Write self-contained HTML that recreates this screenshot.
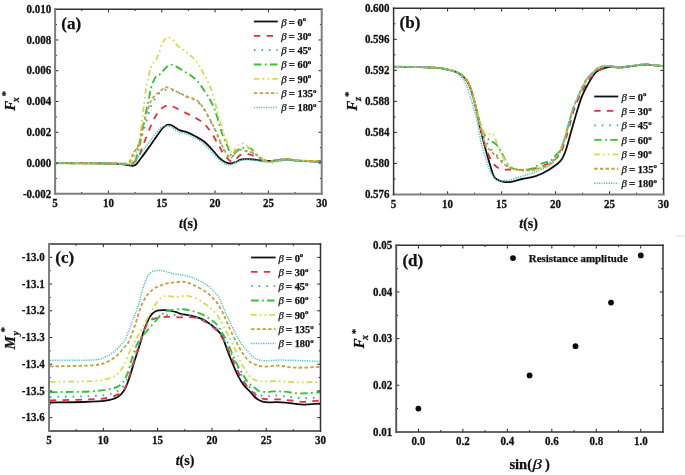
<!DOCTYPE html><html><head><meta charset="utf-8"><style>html,body{margin:0;padding:0;background:#fff;}svg{display:block;filter:blur(0.4px);}text{font-family:"Liberation Serif",serif;stroke:#111;stroke-width:0.25px;}</style></head><body>
<svg width="685" height="475" viewBox="0 0 685 475">
<rect width="685" height="475" fill="#fff"/>
<defs><clipPath id="ca"><rect x="55.10" y="9.20" width="266.60" height="184.60"/></clipPath><clipPath id="cb"><rect x="393.6" y="8.3" width="270" height="186.2"/></clipPath><clipPath id="cc"><rect x="49" y="244" width="271.5" height="187"/></clipPath></defs>
<path d="M55.50,163.20 C59.58,163.20 72.58,163.18 80.00,163.20 C87.42,163.22 94.17,163.23 100.00,163.30 C105.83,163.37 111.33,163.45 115.00,163.60 C118.67,163.75 119.83,163.93 122.00,164.20 C124.17,164.47 126.25,164.93 128.00,165.20 C129.75,165.47 131.17,165.92 132.50,165.80 C133.83,165.68 134.75,165.55 136.00,164.50 C137.25,163.45 138.45,161.52 140.00,159.50 C141.55,157.48 143.02,155.55 145.30,152.40 C147.58,149.25 150.88,144.53 153.70,140.60 C156.52,136.67 160.15,131.30 162.20,128.80 C164.25,126.30 164.95,126.28 166.00,125.60 C167.05,124.92 167.50,124.72 168.50,124.70 C169.50,124.68 170.75,124.95 172.00,125.50 C173.25,126.05 174.65,127.20 176.00,128.00 C177.35,128.80 178.30,129.60 180.10,130.30 C181.90,131.00 184.27,131.22 186.80,132.20 C189.33,133.18 192.48,134.68 195.30,136.20 C198.12,137.72 200.90,139.08 203.70,141.30 C206.50,143.52 209.45,146.68 212.10,149.50 C214.75,152.32 217.38,156.07 219.60,158.20 C221.82,160.33 223.58,161.42 225.40,162.30 C227.22,163.18 228.78,163.55 230.50,163.50 C232.22,163.45 233.87,162.68 235.70,162.00 C237.53,161.32 239.32,159.88 241.50,159.40 C243.68,158.92 246.55,159.05 248.80,159.10 C251.05,159.15 252.63,159.43 255.00,159.70 C257.37,159.97 259.97,160.50 263.00,160.70 C266.03,160.90 269.32,161.12 273.20,160.90 C277.08,160.68 282.17,159.43 286.30,159.40 C290.43,159.37 293.62,160.37 298.00,160.70 C302.38,161.03 308.68,161.27 312.60,161.40 C316.52,161.53 320.02,161.48 321.50,161.50" fill="none" stroke="#111111" stroke-width="1.8" stroke-linejoin="round" clip-path="url(#ca)"/>
<path d="M55.50,163.20 C62.92,163.22 90.08,163.25 100.00,163.30 C109.92,163.35 111.33,163.38 115.00,163.50 C118.67,163.62 119.83,163.85 122.00,164.00 C124.17,164.15 126.33,164.43 128.00,164.40 C129.67,164.37 130.83,164.28 132.00,163.80 C133.17,163.32 133.92,162.55 135.00,161.50 C136.08,160.45 137.07,160.42 138.50,157.50 C139.93,154.58 141.62,149.08 143.60,144.00 C145.58,138.92 148.33,131.75 150.40,127.00 C152.47,122.25 154.40,118.33 156.00,115.50 C157.60,112.67 158.67,111.45 160.00,110.00 C161.33,108.55 162.52,107.55 164.00,106.80 C165.48,106.05 167.07,105.38 168.90,105.50 C170.73,105.62 172.28,106.32 175.00,107.50 C177.72,108.68 182.10,111.05 185.20,112.60 C188.30,114.15 190.80,115.25 193.60,116.80 C196.40,118.35 199.77,120.20 202.00,121.90 C204.23,123.60 205.32,125.03 207.00,127.00 C208.68,128.97 210.48,131.20 212.10,133.70 C213.72,136.20 215.45,139.82 216.70,142.00 C217.95,144.18 218.63,145.07 219.60,146.80 C220.57,148.53 221.28,150.57 222.50,152.40 C223.72,154.23 225.65,156.40 226.90,157.80 C228.15,159.20 228.98,160.17 230.00,160.80 C231.02,161.43 232.00,161.82 233.00,161.60 C234.00,161.38 235.00,160.43 236.00,159.50 C237.00,158.57 237.83,156.88 239.00,156.00 C240.17,155.12 241.37,154.50 243.00,154.20 C244.63,153.90 247.10,153.95 248.80,154.20 C250.50,154.45 251.67,155.03 253.20,155.70 C254.73,156.37 256.37,157.48 258.00,158.20 C259.63,158.92 261.00,159.53 263.00,160.00 C265.00,160.47 267.17,160.97 270.00,161.00 C272.83,161.03 277.28,160.47 280.00,160.20 C282.72,159.93 283.30,159.32 286.30,159.40 C289.30,159.48 293.62,160.37 298.00,160.70 C302.38,161.03 308.68,161.27 312.60,161.40 C316.52,161.53 320.02,161.48 321.50,161.50" fill="none" stroke="#e2303c" stroke-width="1.8" stroke-dasharray="6.4 6.3" stroke-linejoin="round" clip-path="url(#ca)"/>
<path d="M55.50,163.20 C62.92,163.22 90.08,163.27 100.00,163.30 C109.92,163.33 111.33,163.32 115.00,163.40 C118.67,163.48 120.00,163.70 122.00,163.80 C124.00,163.90 125.50,164.22 127.00,164.00 C128.50,163.78 129.83,163.67 131.00,162.50 C132.17,161.33 132.88,159.53 134.00,157.00 C135.12,154.47 136.53,150.38 137.70,147.30 C138.87,144.22 139.87,141.72 141.00,138.50 C142.13,135.28 143.22,132.15 144.50,128.00 C145.78,123.85 147.45,117.60 148.70,113.60 C149.95,109.60 150.88,106.53 152.00,104.00 C153.12,101.47 154.23,100.15 155.40,98.40 C156.57,96.65 157.73,94.82 159.00,93.50 C160.27,92.18 161.63,91.18 163.00,90.50 C164.37,89.82 165.70,89.48 167.20,89.40 C168.70,89.32 169.85,89.30 172.00,90.00 C174.15,90.70 177.07,92.17 180.10,93.60 C183.13,95.03 187.40,97.37 190.20,98.60 C193.00,99.83 194.65,99.27 196.90,101.00 C199.15,102.73 201.45,105.67 203.70,109.00 C205.95,112.33 208.43,117.33 210.40,121.00 C212.37,124.67 213.82,127.33 215.50,131.00 C217.18,134.67 218.82,139.37 220.50,143.00 C222.18,146.63 223.92,150.25 225.60,152.80 C227.28,155.35 229.20,157.93 230.60,158.30 C232.00,158.67 232.75,156.30 234.00,155.00 C235.25,153.70 235.95,151.08 238.10,150.50 C240.25,149.92 244.22,150.95 246.90,151.50 C249.58,152.05 252.02,152.77 254.20,153.80 C256.38,154.83 258.03,156.58 260.00,157.70 C261.97,158.82 263.50,160.03 266.00,160.50 C268.50,160.97 271.62,160.72 275.00,160.50 C278.38,160.28 282.47,159.17 286.30,159.20 C290.13,159.23 292.13,160.35 298.00,160.70 C303.87,161.05 317.58,161.20 321.50,161.30" fill="none" stroke="#45a0dc" stroke-width="1.9" stroke-dasharray="1.7 5.8" stroke-linejoin="round" clip-path="url(#ca)"/>
<path d="M55.50,163.20 C62.92,163.22 90.08,163.27 100.00,163.30 C109.92,163.33 111.33,163.33 115.00,163.40 C118.67,163.47 120.00,163.63 122.00,163.70 C124.00,163.77 125.50,163.92 127.00,163.80 C128.50,163.68 129.92,163.38 131.00,163.00 C132.08,162.62 132.67,162.15 133.50,161.50 C134.33,160.85 134.88,162.30 136.00,159.10 C137.12,155.90 138.65,149.60 140.20,142.30 C141.75,135.00 143.88,122.35 145.30,115.30 C146.72,108.25 147.72,104.67 148.70,100.00 C149.68,95.33 150.07,91.10 151.20,87.30 C152.33,83.50 153.95,79.43 155.50,77.20 C157.05,74.97 158.82,75.43 160.50,73.90 C162.18,72.37 163.92,69.55 165.60,68.00 C167.28,66.45 168.65,64.73 170.60,64.60 C172.55,64.47 175.05,66.05 177.30,67.20 C179.55,68.35 181.95,70.20 184.10,71.50 C186.25,72.80 188.07,73.50 190.20,75.00 C192.33,76.50 194.65,78.03 196.90,80.50 C199.15,82.97 201.58,86.72 203.70,89.80 C205.82,92.88 207.92,96.05 209.60,99.00 C211.28,101.95 212.55,104.53 213.80,107.50 C215.05,110.47 215.70,112.43 217.10,116.80 C218.50,121.17 220.52,128.92 222.20,133.70 C223.88,138.48 225.65,141.85 227.20,145.50 C228.75,149.15 229.82,154.77 231.50,155.60 C233.18,156.43 235.70,151.73 237.30,150.50 C238.90,149.27 239.02,148.58 241.10,148.20 C243.18,147.82 247.13,147.10 249.80,148.20 C252.47,149.30 254.90,152.85 257.10,154.80 C259.30,156.75 261.18,158.70 263.00,159.90 C264.82,161.10 266.00,161.85 268.00,162.00 C270.00,162.15 271.95,161.30 275.00,160.80 C278.05,160.30 282.47,159.05 286.30,159.00 C290.13,158.95 292.13,160.13 298.00,160.50 C303.87,160.87 317.58,161.08 321.50,161.20" fill="none" stroke="#34c234" stroke-width="1.9" stroke-dasharray="7.5 3.5 1.7 3.3" stroke-linejoin="round" clip-path="url(#ca)"/>
<path d="M55.50,163.20 C62.92,163.22 90.08,163.27 100.00,163.30 C109.92,163.33 111.33,163.35 115.00,163.40 C118.67,163.45 120.00,163.57 122.00,163.60 C124.00,163.63 125.50,163.78 127.00,163.60 C128.50,163.42 129.83,163.43 131.00,162.50 C132.17,161.57 133.02,159.97 134.00,158.00 C134.98,156.03 135.87,154.45 136.90,150.70 C137.93,146.95 139.25,141.40 140.20,135.50 C141.15,129.60 141.88,121.22 142.60,115.30 C143.32,109.38 143.90,104.67 144.50,100.00 C145.10,95.33 145.35,91.93 146.20,87.30 C147.05,82.67 148.62,75.98 149.60,72.20 C150.58,68.42 151.12,66.57 152.10,64.60 C153.08,62.63 154.38,62.22 155.50,60.40 C156.62,58.58 157.68,56.50 158.80,53.70 C159.92,50.90 161.07,46.13 162.20,43.60 C163.33,41.07 164.62,39.55 165.60,38.50 C166.58,37.45 166.98,37.15 168.10,37.30 C169.22,37.45 170.77,38.07 172.30,39.40 C173.83,40.73 175.33,43.48 177.30,45.30 C179.27,47.12 181.95,48.63 184.10,50.30 C186.25,51.97 188.07,53.35 190.20,55.30 C192.33,57.25 194.65,58.92 196.90,62.00 C199.15,65.08 201.58,69.87 203.70,73.80 C205.82,77.73 207.92,81.67 209.60,85.60 C211.28,89.53 212.68,93.75 213.80,97.40 C214.92,101.05 215.47,104.27 216.30,107.50 C217.13,110.73 217.53,112.43 218.80,116.80 C220.07,121.17 222.22,128.65 223.90,133.70 C225.58,138.75 227.50,143.73 228.90,147.10 C230.30,150.47 231.12,153.75 232.30,153.90 C233.48,154.05 234.88,149.55 236.00,148.00 C237.12,146.45 237.92,145.37 239.00,144.60 C240.08,143.83 241.33,143.25 242.50,143.40 C243.67,143.55 244.30,144.33 246.00,145.50 C247.70,146.67 250.37,148.48 252.70,150.40 C255.03,152.32 257.57,154.93 260.00,157.00 C262.43,159.07 265.10,161.83 267.30,162.80 C269.50,163.77 271.08,163.10 273.20,162.80 C275.32,162.50 277.82,161.67 280.00,161.00 C282.18,160.33 283.30,158.88 286.30,158.80 C289.30,158.72 292.13,160.13 298.00,160.50 C303.87,160.87 317.58,160.92 321.50,161.00" fill="none" stroke="#dcd84a" stroke-width="1.8" stroke-dasharray="5.6 3 1.7 3.3 1.7 3" stroke-linejoin="round" clip-path="url(#ca)"/>
<path d="M55.50,163.20 C62.92,163.22 90.08,163.27 100.00,163.30 C109.92,163.33 111.33,163.33 115.00,163.40 C118.67,163.47 120.00,163.68 122.00,163.70 C124.00,163.72 125.67,163.95 127.00,163.50 C128.33,163.05 128.83,162.92 130.00,161.00 C131.17,159.08 132.58,154.67 134.00,152.00 C135.42,149.33 136.90,149.72 138.50,145.00 C140.10,140.28 141.90,130.05 143.60,123.70 C145.30,117.35 147.30,111.02 148.70,106.90 C150.10,102.78 150.87,100.98 152.00,99.00 C153.13,97.02 154.37,96.10 155.50,95.00 C156.63,93.90 157.40,93.57 158.80,92.40 C160.20,91.23 162.50,88.85 163.90,88.00 C165.30,87.15 165.52,86.93 167.20,87.30 C168.88,87.67 171.75,89.15 174.00,90.20 C176.25,91.25 178.18,92.40 180.70,93.60 C183.22,94.80 186.40,96.28 189.10,97.40 C191.80,98.52 194.47,98.47 196.90,100.30 C199.33,102.13 201.45,105.08 203.70,108.40 C205.95,111.72 208.43,116.55 210.40,120.20 C212.37,123.85 213.82,126.65 215.50,130.30 C217.18,133.95 218.82,138.45 220.50,142.10 C222.18,145.75 223.92,149.53 225.60,152.20 C227.28,154.87 229.20,157.80 230.60,158.10 C232.00,158.40 232.75,155.40 234.00,154.00 C235.25,152.60 235.95,150.17 238.10,149.70 C240.25,149.23 244.22,150.58 246.90,151.20 C249.58,151.82 252.02,152.32 254.20,153.40 C256.38,154.48 258.03,156.43 260.00,157.70 C261.97,158.97 263.50,160.53 266.00,161.00 C268.50,161.47 271.62,160.83 275.00,160.50 C278.38,160.17 282.47,159.00 286.30,159.00 C290.13,159.00 292.13,160.13 298.00,160.50 C303.87,160.87 317.58,161.08 321.50,161.20" fill="none" stroke="#c6a03c" stroke-width="1.8" stroke-dasharray="3.4 2.3" stroke-linejoin="round" clip-path="url(#ca)"/>
<path d="M55.50,163.20 C62.92,163.22 90.08,163.23 100.00,163.30 C109.92,163.37 111.33,163.45 115.00,163.60 C118.67,163.75 120.00,164.00 122.00,164.20 C124.00,164.40 125.50,164.70 127.00,164.80 C128.50,164.90 129.67,165.27 131.00,164.80 C132.33,164.33 133.67,163.47 135.00,162.00 C136.33,160.53 137.50,158.17 139.00,156.00 C140.50,153.83 141.83,151.90 144.00,149.00 C146.17,146.10 149.33,142.02 152.00,138.60 C154.67,135.18 158.00,130.57 160.00,128.50 C162.00,126.43 162.67,126.62 164.00,126.20 C165.33,125.78 166.67,125.78 168.00,126.00 C169.33,126.22 170.67,126.75 172.00,127.50 C173.33,128.25 174.65,129.72 176.00,130.50 C177.35,131.28 178.30,131.62 180.10,132.20 C181.90,132.78 184.27,133.03 186.80,134.00 C189.33,134.97 192.48,136.33 195.30,138.00 C198.12,139.67 200.90,141.58 203.70,144.00 C206.50,146.42 209.58,149.97 212.10,152.50 C214.62,155.03 216.83,157.42 218.80,159.20 C220.77,160.98 222.12,162.23 223.90,163.20 C225.68,164.17 227.48,165.20 229.50,165.00 C231.52,164.80 233.58,162.87 236.00,162.00 C238.42,161.13 240.97,160.10 244.00,159.80 C247.03,159.50 251.03,159.92 254.20,160.20 C257.37,160.48 259.83,161.27 263.00,161.50 C266.17,161.73 269.32,161.85 273.20,161.60 C277.08,161.35 282.17,160.07 286.30,160.00 C290.43,159.93 293.62,160.88 298.00,161.20 C302.38,161.52 308.68,161.77 312.60,161.90 C316.52,162.03 320.02,161.98 321.50,162.00" fill="none" stroke="#48c4c4" stroke-width="1.5" stroke-dasharray="1.2 1.2" stroke-linejoin="round" clip-path="url(#ca)"/>
<line x1="108.42" y1="193.80" x2="108.42" y2="190.60" stroke="#222" stroke-width="1"/>
<line x1="108.42" y1="9.20" x2="108.42" y2="12.40" stroke="#222" stroke-width="1"/>
<line x1="161.74" y1="193.80" x2="161.74" y2="190.60" stroke="#222" stroke-width="1"/>
<line x1="161.74" y1="9.20" x2="161.74" y2="12.40" stroke="#222" stroke-width="1"/>
<line x1="215.06" y1="193.80" x2="215.06" y2="190.60" stroke="#222" stroke-width="1"/>
<line x1="215.06" y1="9.20" x2="215.06" y2="12.40" stroke="#222" stroke-width="1"/>
<line x1="268.38" y1="193.80" x2="268.38" y2="190.60" stroke="#222" stroke-width="1"/>
<line x1="268.38" y1="9.20" x2="268.38" y2="12.40" stroke="#222" stroke-width="1"/>
<line x1="81.76" y1="193.80" x2="81.76" y2="192.00" stroke="#222" stroke-width="1"/>
<line x1="81.76" y1="9.20" x2="81.76" y2="11.00" stroke="#222" stroke-width="1"/>
<line x1="135.08" y1="193.80" x2="135.08" y2="192.00" stroke="#222" stroke-width="1"/>
<line x1="135.08" y1="9.20" x2="135.08" y2="11.00" stroke="#222" stroke-width="1"/>
<line x1="188.40" y1="193.80" x2="188.40" y2="192.00" stroke="#222" stroke-width="1"/>
<line x1="188.40" y1="9.20" x2="188.40" y2="11.00" stroke="#222" stroke-width="1"/>
<line x1="241.72" y1="193.80" x2="241.72" y2="192.00" stroke="#222" stroke-width="1"/>
<line x1="241.72" y1="9.20" x2="241.72" y2="11.00" stroke="#222" stroke-width="1"/>
<line x1="295.04" y1="193.80" x2="295.04" y2="192.00" stroke="#222" stroke-width="1"/>
<line x1="295.04" y1="9.20" x2="295.04" y2="11.00" stroke="#222" stroke-width="1"/>
<line x1="55.10" y1="39.97" x2="58.30" y2="39.97" stroke="#222" stroke-width="1"/>
<line x1="321.70" y1="39.97" x2="318.50" y2="39.97" stroke="#222" stroke-width="1"/>
<line x1="55.10" y1="70.73" x2="58.30" y2="70.73" stroke="#222" stroke-width="1"/>
<line x1="321.70" y1="70.73" x2="318.50" y2="70.73" stroke="#222" stroke-width="1"/>
<line x1="55.10" y1="101.50" x2="58.30" y2="101.50" stroke="#222" stroke-width="1"/>
<line x1="321.70" y1="101.50" x2="318.50" y2="101.50" stroke="#222" stroke-width="1"/>
<line x1="55.10" y1="132.27" x2="58.30" y2="132.27" stroke="#222" stroke-width="1"/>
<line x1="321.70" y1="132.27" x2="318.50" y2="132.27" stroke="#222" stroke-width="1"/>
<line x1="55.10" y1="163.03" x2="58.30" y2="163.03" stroke="#222" stroke-width="1"/>
<line x1="321.70" y1="163.03" x2="318.50" y2="163.03" stroke="#222" stroke-width="1"/>
<line x1="55.10" y1="178.42" x2="56.90" y2="178.42" stroke="#222" stroke-width="1"/>
<line x1="321.70" y1="178.42" x2="319.90" y2="178.42" stroke="#222" stroke-width="1"/>
<line x1="55.10" y1="147.65" x2="56.90" y2="147.65" stroke="#222" stroke-width="1"/>
<line x1="321.70" y1="147.65" x2="319.90" y2="147.65" stroke="#222" stroke-width="1"/>
<line x1="55.10" y1="116.88" x2="56.90" y2="116.88" stroke="#222" stroke-width="1"/>
<line x1="321.70" y1="116.88" x2="319.90" y2="116.88" stroke="#222" stroke-width="1"/>
<line x1="55.10" y1="86.12" x2="56.90" y2="86.12" stroke="#222" stroke-width="1"/>
<line x1="321.70" y1="86.12" x2="319.90" y2="86.12" stroke="#222" stroke-width="1"/>
<line x1="55.10" y1="55.35" x2="56.90" y2="55.35" stroke="#222" stroke-width="1"/>
<line x1="321.70" y1="55.35" x2="319.90" y2="55.35" stroke="#222" stroke-width="1"/>
<line x1="55.10" y1="24.58" x2="56.90" y2="24.58" stroke="#222" stroke-width="1"/>
<line x1="321.70" y1="24.58" x2="319.90" y2="24.58" stroke="#222" stroke-width="1"/>
<line x1="55.10" y1="9.20" x2="321.70" y2="9.20" stroke="#333" stroke-width="1.5" stroke-linecap="square"/>
<line x1="321.70" y1="9.20" x2="321.70" y2="193.80" stroke="#7e7e7e" stroke-width="2.0" stroke-linecap="square"/>
<line x1="321.70" y1="193.80" x2="55.10" y2="193.80" stroke="#7e7e7e" stroke-width="2.0" stroke-linecap="square"/>
<line x1="55.10" y1="193.80" x2="55.10" y2="9.20" stroke="#7e7e7e" stroke-width="2.0" stroke-linecap="square"/>
<text transform="translate(51.30,12.90) scale(1,1.100)" font-size="11" text-anchor="end" font-weight="bold" font-style="normal" fill="#111">0.010</text>
<text transform="translate(51.30,43.67) scale(1,1.100)" font-size="11" text-anchor="end" font-weight="bold" font-style="normal" fill="#111">0.008</text>
<text transform="translate(51.30,74.43) scale(1,1.100)" font-size="11" text-anchor="end" font-weight="bold" font-style="normal" fill="#111">0.006</text>
<text transform="translate(51.30,105.20) scale(1,1.100)" font-size="11" text-anchor="end" font-weight="bold" font-style="normal" fill="#111">0.004</text>
<text transform="translate(51.30,135.97) scale(1,1.100)" font-size="11" text-anchor="end" font-weight="bold" font-style="normal" fill="#111">0.002</text>
<text transform="translate(51.30,166.73) scale(1,1.100)" font-size="11" text-anchor="end" font-weight="bold" font-style="normal" fill="#111">0.000</text>
<text transform="translate(51.30,197.50) scale(1,1.100)" font-size="11" text-anchor="end" font-weight="bold" font-style="normal" fill="#111">-0.002</text>
<text transform="translate(55.10,206.90) scale(1,1.100)" font-size="11" text-anchor="middle" font-weight="bold" font-style="normal" fill="#111">5</text>
<text transform="translate(108.42,206.90) scale(1,1.100)" font-size="11" text-anchor="middle" font-weight="bold" font-style="normal" fill="#111">10</text>
<text transform="translate(161.74,206.90) scale(1,1.100)" font-size="11" text-anchor="middle" font-weight="bold" font-style="normal" fill="#111">15</text>
<text transform="translate(215.06,206.90) scale(1,1.100)" font-size="11" text-anchor="middle" font-weight="bold" font-style="normal" fill="#111">20</text>
<text transform="translate(268.38,206.90) scale(1,1.100)" font-size="11" text-anchor="middle" font-weight="bold" font-style="normal" fill="#111">25</text>
<text transform="translate(321.70,206.90) scale(1,1.100)" font-size="11" text-anchor="middle" font-weight="bold" font-style="normal" fill="#111">30</text>
<text x="61.30" y="29.40" font-size="17" text-anchor="start" font-weight="bold" font-style="normal" fill="#111">(a)</text>
<line x1="253.90" y1="21.50" x2="277.80" y2="21.50" stroke="#111111" stroke-width="1.8"/>
<text x="281.20" y="25.50" font-size="10.4" font-weight="bold" fill="#111"><tspan font-style="italic" font-weight="normal" font-size="10.8">&#946;</tspan><tspan dx="1.9" font-size="11.2">=</tspan><tspan dx="2.6">0</tspan><tspan font-size="6.8" dy="-4.3">o</tspan></text>
<line x1="253.90" y1="35.82" x2="277.80" y2="35.82" stroke="#e2303c" stroke-width="1.8" stroke-dasharray="6.4 6.3"/>
<text x="281.20" y="39.82" font-size="10.4" font-weight="bold" fill="#111"><tspan font-style="italic" font-weight="normal" font-size="10.8">&#946;</tspan><tspan dx="1.9" font-size="11.2">=</tspan><tspan dx="2.6">30</tspan><tspan font-size="6.8" dy="-4.3">o</tspan></text>
<line x1="253.90" y1="50.14" x2="277.80" y2="50.14" stroke="#45a0dc" stroke-width="1.9" stroke-dasharray="1.7 5.8"/>
<text x="281.20" y="54.14" font-size="10.4" font-weight="bold" fill="#111"><tspan font-style="italic" font-weight="normal" font-size="10.8">&#946;</tspan><tspan dx="1.9" font-size="11.2">=</tspan><tspan dx="2.6">45</tspan><tspan font-size="6.8" dy="-4.3">o</tspan></text>
<line x1="253.90" y1="64.46" x2="277.80" y2="64.46" stroke="#34c234" stroke-width="1.9" stroke-dasharray="7.5 3.5 1.7 3.3"/>
<text x="281.20" y="68.46" font-size="10.4" font-weight="bold" fill="#111"><tspan font-style="italic" font-weight="normal" font-size="10.8">&#946;</tspan><tspan dx="1.9" font-size="11.2">=</tspan><tspan dx="2.6">60</tspan><tspan font-size="6.8" dy="-4.3">o</tspan></text>
<line x1="253.90" y1="78.78" x2="277.80" y2="78.78" stroke="#dcd84a" stroke-width="1.8" stroke-dasharray="5.6 3 1.7 3.3 1.7 3"/>
<text x="281.20" y="82.78" font-size="10.4" font-weight="bold" fill="#111"><tspan font-style="italic" font-weight="normal" font-size="10.8">&#946;</tspan><tspan dx="1.9" font-size="11.2">=</tspan><tspan dx="2.6">90</tspan><tspan font-size="6.8" dy="-4.3">o</tspan></text>
<line x1="253.90" y1="93.10" x2="277.80" y2="93.10" stroke="#c6a03c" stroke-width="1.8" stroke-dasharray="3.4 2.3"/>
<text x="281.20" y="97.10" font-size="10.4" font-weight="bold" fill="#111"><tspan font-style="italic" font-weight="normal" font-size="10.8">&#946;</tspan><tspan dx="1.9" font-size="11.2">=</tspan><tspan dx="2.6">135</tspan><tspan font-size="6.8" dy="-4.3">o</tspan></text>
<line x1="253.90" y1="107.42" x2="277.80" y2="107.42" stroke="#48c4c4" stroke-width="1.5" stroke-dasharray="1.2 1.2"/>
<text x="281.20" y="111.42" font-size="10.4" font-weight="bold" fill="#111"><tspan font-style="italic" font-weight="normal" font-size="10.8">&#946;</tspan><tspan dx="1.9" font-size="11.2">=</tspan><tspan dx="2.6">180</tspan><tspan font-size="6.8" dy="-4.3">o</tspan></text>
<text x="188.4" y="228.1" font-size="14" text-anchor="middle" font-weight="bold" fill="#111"><tspan font-style="italic">t</tspan>(s)</text>
<text transform="translate(14.80,110.80) rotate(-90)" font-size="15" font-weight="bold" fill="#111"><tspan font-style="italic">F</tspan><tspan font-style="italic" font-size="10" dx="-1.40" dy="3.8">x</tspan><tspan font-size="11" dx="0.60" dy="-9.30">*</tspan></text>
<path d="M394.00,66.80 C398.33,66.83 412.33,66.77 420.00,67.00 C427.67,67.23 435.33,67.73 440.00,68.20 C444.67,68.67 445.27,69.12 448.00,69.80 C450.73,70.48 453.63,70.97 456.40,72.30 C459.17,73.63 462.32,75.28 464.60,77.80 C466.88,80.32 468.27,82.62 470.10,87.40 C471.93,92.18 474.00,100.13 475.60,106.50 C477.20,112.87 478.12,118.77 479.70,125.60 C481.28,132.43 483.28,140.65 485.10,147.50 C486.92,154.35 489.00,161.68 490.60,166.70 C492.20,171.72 492.65,175.10 494.70,177.60 C496.75,180.10 500.17,180.98 502.90,181.70 C505.63,182.42 507.92,182.35 511.10,181.90 C514.28,181.45 517.90,179.95 522.00,179.00 C526.10,178.05 531.13,177.80 535.70,176.20 C540.27,174.60 545.30,171.90 549.40,169.40 C553.50,166.90 557.57,164.38 560.30,161.20 C563.03,158.02 563.97,155.32 565.80,150.30 C567.63,145.28 569.47,137.48 571.30,131.10 C573.13,124.72 574.98,117.92 576.80,112.00 C578.62,106.08 580.38,100.17 582.20,95.60 C584.02,91.03 585.65,88.25 587.70,84.60 C589.75,80.95 592.45,76.20 594.50,73.70 C596.55,71.20 598.08,70.62 600.00,69.60 C601.92,68.58 604.00,68.05 606.00,67.60 C608.00,67.15 609.92,66.92 612.00,66.90 C614.08,66.88 615.78,67.55 618.50,67.50 C621.22,67.45 624.83,67.02 628.30,66.60 C631.77,66.18 636.02,65.32 639.30,65.00 C642.58,64.68 645.27,64.62 648.00,64.70 C650.73,64.78 653.12,65.25 655.70,65.50 C658.28,65.75 662.20,66.08 663.50,66.20" fill="none" stroke="#111111" stroke-width="1.8" stroke-linejoin="round" clip-path="url(#cb)"/>
<path d="M394.00,66.80 C398.33,66.83 412.33,66.78 420.00,67.00 C427.67,67.22 435.33,67.67 440.00,68.10 C444.67,68.53 445.27,68.95 448.00,69.60 C450.73,70.25 453.63,70.70 456.40,72.00 C459.17,73.30 462.32,74.90 464.60,77.40 C466.88,79.90 468.27,82.23 470.10,87.00 C471.93,91.77 474.00,99.83 475.60,106.00 C477.20,112.17 478.12,117.50 479.70,124.00 C481.28,130.50 483.38,139.33 485.10,145.00 C486.82,150.67 488.35,154.58 490.00,158.00 C491.65,161.42 493.00,163.58 495.00,165.50 C497.00,167.42 499.50,168.83 502.00,169.50 C504.50,170.17 506.33,169.45 510.00,169.50 C513.67,169.55 519.70,170.03 524.00,169.80 C528.30,169.57 531.88,169.08 535.80,168.10 C539.72,167.12 543.87,165.73 547.50,163.90 C551.13,162.07 555.18,159.42 557.60,157.10 C560.02,154.78 560.60,153.18 562.00,150.00 C563.40,146.82 564.58,142.67 566.00,138.00 C567.42,133.33 569.00,127.17 570.50,122.00 C572.00,116.83 573.08,112.08 575.00,107.00 C576.92,101.92 579.67,96.08 582.00,91.50 C584.33,86.92 586.93,82.42 589.00,79.50 C591.07,76.58 592.40,75.75 594.40,74.00 C596.40,72.25 599.07,70.20 601.00,69.00 C602.93,67.80 604.18,67.22 606.00,66.80 C607.82,66.38 609.82,66.40 611.90,66.50 C613.98,66.60 615.77,67.40 618.50,67.40 C621.23,67.40 624.83,66.92 628.30,66.50 C631.77,66.08 636.02,65.22 639.30,64.90 C642.58,64.58 645.27,64.52 648.00,64.60 C650.73,64.68 653.12,65.15 655.70,65.40 C658.28,65.65 662.20,65.98 663.50,66.10" fill="none" stroke="#e2303c" stroke-width="1.8" stroke-dasharray="6.4 6.3" stroke-linejoin="round" clip-path="url(#cb)"/>
<path d="M394.00,66.80 C398.33,66.83 412.33,66.78 420.00,67.00 C427.67,67.22 435.33,67.67 440.00,68.10 C444.67,68.53 445.27,68.95 448.00,69.60 C450.73,70.25 453.63,70.70 456.40,72.00 C459.17,73.30 462.32,74.90 464.60,77.40 C466.88,79.90 468.27,82.23 470.10,87.00 C471.93,91.77 474.00,100.00 475.60,106.00 C477.20,112.00 478.30,117.83 479.70,123.00 C481.10,128.17 482.28,132.83 484.00,137.00 C485.72,141.17 487.27,144.37 490.00,148.00 C492.73,151.63 497.55,155.87 500.40,158.80 C503.25,161.73 504.85,163.92 507.10,165.60 C509.35,167.28 511.42,168.20 513.90,168.90 C516.38,169.60 518.98,169.70 522.00,169.80 C525.02,169.90 528.67,169.97 532.00,169.50 C535.33,169.03 538.83,168.17 542.00,167.00 C545.17,165.83 548.50,164.42 551.00,162.50 C553.50,160.58 555.42,157.58 557.00,155.50 C558.58,153.42 559.35,152.42 560.50,150.00 C561.65,147.58 562.57,145.18 563.90,141.00 C565.23,136.82 566.95,130.30 568.50,124.90 C570.05,119.50 571.28,114.02 573.20,108.60 C575.12,103.18 577.87,97.08 580.00,92.40 C582.13,87.72 584.33,83.32 586.00,80.50 C587.67,77.68 588.23,77.38 590.00,75.50 C591.77,73.62 594.43,70.72 596.60,69.20 C598.77,67.68 600.45,66.85 603.00,66.40 C605.55,65.95 609.32,66.33 611.90,66.50 C614.48,66.67 615.77,67.40 618.50,67.40 C621.23,67.40 624.83,66.92 628.30,66.50 C631.77,66.08 636.02,65.22 639.30,64.90 C642.58,64.58 645.27,64.52 648.00,64.60 C650.73,64.68 653.12,65.15 655.70,65.40 C658.28,65.65 662.20,65.98 663.50,66.10" fill="none" stroke="#45a0dc" stroke-width="1.9" stroke-dasharray="1.7 5.8" stroke-linejoin="round" clip-path="url(#cb)"/>
<path d="M394.00,66.80 C398.33,66.83 412.33,66.78 420.00,67.00 C427.67,67.22 435.33,67.67 440.00,68.10 C444.67,68.53 445.27,68.95 448.00,69.60 C450.73,70.25 453.63,70.70 456.40,72.00 C459.17,73.30 462.32,74.90 464.60,77.40 C466.88,79.90 468.27,82.23 470.10,87.00 C471.93,91.77 474.12,100.58 475.60,106.00 C477.08,111.42 477.93,115.67 479.00,119.50 C480.07,123.33 481.00,126.33 482.00,129.00 C483.00,131.67 483.67,133.58 485.00,135.50 C486.33,137.42 488.27,139.13 490.00,140.50 C491.73,141.87 493.67,142.05 495.40,143.70 C497.13,145.35 498.72,147.60 500.40,150.40 C502.08,153.20 503.82,157.70 505.50,160.50 C507.18,163.30 508.27,165.65 510.50,167.20 C512.73,168.75 515.53,169.52 518.90,169.80 C522.27,170.08 527.05,169.88 530.70,168.90 C534.35,167.92 537.43,165.30 540.80,163.90 C544.17,162.50 548.37,161.98 550.90,160.50 C553.43,159.02 554.43,156.75 556.00,155.00 C557.57,153.25 558.98,152.33 560.30,150.00 C561.62,147.67 562.53,145.18 563.90,141.00 C565.27,136.82 566.95,130.30 568.50,124.90 C570.05,119.50 571.28,114.02 573.20,108.60 C575.12,103.18 577.87,97.08 580.00,92.40 C582.13,87.72 584.33,83.32 586.00,80.50 C587.67,77.68 588.23,77.38 590.00,75.50 C591.77,73.62 594.43,70.72 596.60,69.20 C598.77,67.68 600.45,66.85 603.00,66.40 C605.55,65.95 609.32,66.33 611.90,66.50 C614.48,66.67 615.77,67.40 618.50,67.40 C621.23,67.40 624.83,66.92 628.30,66.50 C631.77,66.08 636.02,65.22 639.30,64.90 C642.58,64.58 645.27,64.52 648.00,64.60 C650.73,64.68 653.12,65.15 655.70,65.40 C658.28,65.65 662.20,65.98 663.50,66.10" fill="none" stroke="#34c234" stroke-width="1.9" stroke-dasharray="7.5 3.5 1.7 3.3" stroke-linejoin="round" clip-path="url(#cb)"/>
<path d="M394.00,66.80 C398.33,66.83 412.33,66.78 420.00,67.00 C427.67,67.22 435.33,67.67 440.00,68.10 C444.67,68.53 445.27,68.95 448.00,69.60 C450.73,70.25 453.63,70.70 456.40,72.00 C459.17,73.30 462.32,74.90 464.60,77.40 C466.88,79.90 468.27,82.23 470.10,87.00 C471.93,91.77 474.12,100.58 475.60,106.00 C477.08,111.42 477.95,115.67 479.00,119.50 C480.05,123.33 480.90,126.67 481.90,129.00 C482.90,131.33 483.65,132.63 485.00,133.50 C486.35,134.37 488.55,134.02 490.00,134.20 C491.45,134.38 492.53,133.02 493.70,134.60 C494.87,136.18 495.60,140.22 497.00,143.70 C498.40,147.18 500.13,151.85 502.10,155.50 C504.07,159.15 506.28,163.22 508.80,165.60 C511.32,167.98 514.12,168.83 517.20,169.80 C520.28,170.77 523.65,171.55 527.30,171.40 C530.95,171.25 535.17,170.15 539.10,168.90 C543.03,167.65 548.08,165.88 550.90,163.90 C553.72,161.92 554.43,159.32 556.00,157.00 C557.57,154.68 558.98,152.67 560.30,150.00 C561.62,147.33 562.53,145.18 563.90,141.00 C565.27,136.82 566.95,130.30 568.50,124.90 C570.05,119.50 571.28,114.02 573.20,108.60 C575.12,103.18 577.87,97.08 580.00,92.40 C582.13,87.72 584.33,83.32 586.00,80.50 C587.67,77.68 588.23,77.38 590.00,75.50 C591.77,73.62 594.43,70.72 596.60,69.20 C598.77,67.68 600.45,66.85 603.00,66.40 C605.55,65.95 609.32,66.33 611.90,66.50 C614.48,66.67 615.77,67.40 618.50,67.40 C621.23,67.40 624.83,66.92 628.30,66.50 C631.77,66.08 636.02,65.22 639.30,64.90 C642.58,64.58 645.27,64.52 648.00,64.60 C650.73,64.68 653.12,65.15 655.70,65.40 C658.28,65.65 662.20,65.98 663.50,66.10" fill="none" stroke="#dcd84a" stroke-width="1.8" stroke-dasharray="5.6 3 1.7 3.3 1.7 3" stroke-linejoin="round" clip-path="url(#cb)"/>
<path d="M394.00,66.80 C398.33,66.83 412.33,66.78 420.00,67.00 C427.67,67.22 435.33,67.67 440.00,68.10 C444.67,68.53 445.27,68.95 448.00,69.60 C450.73,70.25 453.63,70.70 456.40,72.00 C459.17,73.30 462.32,74.90 464.60,77.40 C466.88,79.90 468.27,82.23 470.10,87.00 C471.93,91.77 474.00,99.92 475.60,106.00 C477.20,112.08 478.47,118.33 479.70,123.50 C480.93,128.67 481.95,133.25 483.00,137.00 C484.05,140.75 484.78,143.77 486.00,146.00 C487.22,148.23 488.47,148.55 490.30,150.40 C492.13,152.25 494.75,154.85 497.00,157.10 C499.25,159.35 501.55,162.07 503.80,163.90 C506.05,165.73 507.70,167.12 510.50,168.10 C513.30,169.08 517.35,169.48 520.60,169.80 C523.85,170.12 526.77,170.30 530.00,170.00 C533.23,169.70 536.67,169.00 540.00,168.00 C543.33,167.00 547.33,165.75 550.00,164.00 C552.67,162.25 554.28,159.67 556.00,157.50 C557.72,155.33 558.98,153.75 560.30,151.00 C561.62,148.25 562.53,145.35 563.90,141.00 C565.27,136.65 566.95,130.30 568.50,124.90 C570.05,119.50 571.28,114.02 573.20,108.60 C575.12,103.18 577.87,97.08 580.00,92.40 C582.13,87.72 584.33,83.32 586.00,80.50 C587.67,77.68 588.23,77.38 590.00,75.50 C591.77,73.62 594.43,70.72 596.60,69.20 C598.77,67.68 600.45,66.85 603.00,66.40 C605.55,65.95 609.32,66.33 611.90,66.50 C614.48,66.67 615.77,67.40 618.50,67.40 C621.23,67.40 624.83,66.92 628.30,66.50 C631.77,66.08 636.02,65.22 639.30,64.90 C642.58,64.58 645.27,64.52 648.00,64.60 C650.73,64.68 653.12,65.15 655.70,65.40 C658.28,65.65 662.20,65.98 663.50,66.10" fill="none" stroke="#c6a03c" stroke-width="1.8" stroke-dasharray="3.4 2.3" stroke-linejoin="round" clip-path="url(#cb)"/>
<path d="M394.00,66.80 C398.33,66.83 412.33,66.83 420.00,67.00 C427.67,67.17 434.67,67.22 440.00,67.80 C445.33,68.38 448.67,69.22 452.00,70.50 C455.33,71.78 457.67,73.15 460.00,75.50 C462.33,77.85 464.08,80.35 466.00,84.60 C467.92,88.85 469.67,95.10 471.50,101.00 C473.33,106.90 475.42,113.17 477.00,120.00 C478.58,126.83 479.42,135.17 481.00,142.00 C482.58,148.83 484.90,156.00 486.50,161.00 C488.10,166.00 488.78,168.78 490.60,172.00 C492.42,175.22 494.43,178.92 497.40,180.30 C500.37,181.68 504.30,180.98 508.40,180.30 C512.50,179.62 517.45,177.58 522.00,176.20 C526.55,174.82 531.13,173.82 535.70,172.00 C540.27,170.18 546.02,167.55 549.40,165.30 C552.78,163.05 554.18,160.88 556.00,158.50 C557.82,156.12 558.98,153.92 560.30,151.00 C561.62,148.08 562.53,145.35 563.90,141.00 C565.27,136.65 566.95,130.30 568.50,124.90 C570.05,119.50 571.28,114.02 573.20,108.60 C575.12,103.18 577.87,97.08 580.00,92.40 C582.13,87.72 584.33,83.32 586.00,80.50 C587.67,77.68 588.23,77.38 590.00,75.50 C591.77,73.62 594.43,70.72 596.60,69.20 C598.77,67.68 600.45,66.85 603.00,66.40 C605.55,65.95 609.32,66.33 611.90,66.50 C614.48,66.67 615.77,67.40 618.50,67.40 C621.23,67.40 624.83,66.92 628.30,66.50 C631.77,66.08 636.02,65.22 639.30,64.90 C642.58,64.58 645.27,64.52 648.00,64.60 C650.73,64.68 653.12,65.15 655.70,65.40 C658.28,65.65 662.20,65.98 663.50,66.10" fill="none" stroke="#48c4c4" stroke-width="1.5" stroke-dasharray="1.2 1.2" stroke-linejoin="round" clip-path="url(#cb)"/>
<line x1="447.60" y1="194.50" x2="447.60" y2="191.30" stroke="#222" stroke-width="1"/>
<line x1="447.60" y1="8.30" x2="447.60" y2="11.50" stroke="#222" stroke-width="1"/>
<line x1="501.60" y1="194.50" x2="501.60" y2="191.30" stroke="#222" stroke-width="1"/>
<line x1="501.60" y1="8.30" x2="501.60" y2="11.50" stroke="#222" stroke-width="1"/>
<line x1="555.60" y1="194.50" x2="555.60" y2="191.30" stroke="#222" stroke-width="1"/>
<line x1="555.60" y1="8.30" x2="555.60" y2="11.50" stroke="#222" stroke-width="1"/>
<line x1="609.60" y1="194.50" x2="609.60" y2="191.30" stroke="#222" stroke-width="1"/>
<line x1="609.60" y1="8.30" x2="609.60" y2="11.50" stroke="#222" stroke-width="1"/>
<line x1="420.60" y1="194.50" x2="420.60" y2="192.70" stroke="#222" stroke-width="1"/>
<line x1="420.60" y1="8.30" x2="420.60" y2="10.10" stroke="#222" stroke-width="1"/>
<line x1="474.60" y1="194.50" x2="474.60" y2="192.70" stroke="#222" stroke-width="1"/>
<line x1="474.60" y1="8.30" x2="474.60" y2="10.10" stroke="#222" stroke-width="1"/>
<line x1="528.60" y1="194.50" x2="528.60" y2="192.70" stroke="#222" stroke-width="1"/>
<line x1="528.60" y1="8.30" x2="528.60" y2="10.10" stroke="#222" stroke-width="1"/>
<line x1="582.60" y1="194.50" x2="582.60" y2="192.70" stroke="#222" stroke-width="1"/>
<line x1="582.60" y1="8.30" x2="582.60" y2="10.10" stroke="#222" stroke-width="1"/>
<line x1="636.60" y1="194.50" x2="636.60" y2="192.70" stroke="#222" stroke-width="1"/>
<line x1="636.60" y1="8.30" x2="636.60" y2="10.10" stroke="#222" stroke-width="1"/>
<line x1="393.60" y1="39.33" x2="396.80" y2="39.33" stroke="#222" stroke-width="1"/>
<line x1="663.60" y1="39.33" x2="660.40" y2="39.33" stroke="#222" stroke-width="1"/>
<line x1="393.60" y1="70.37" x2="396.80" y2="70.37" stroke="#222" stroke-width="1"/>
<line x1="663.60" y1="70.37" x2="660.40" y2="70.37" stroke="#222" stroke-width="1"/>
<line x1="393.60" y1="101.40" x2="396.80" y2="101.40" stroke="#222" stroke-width="1"/>
<line x1="663.60" y1="101.40" x2="660.40" y2="101.40" stroke="#222" stroke-width="1"/>
<line x1="393.60" y1="132.43" x2="396.80" y2="132.43" stroke="#222" stroke-width="1"/>
<line x1="663.60" y1="132.43" x2="660.40" y2="132.43" stroke="#222" stroke-width="1"/>
<line x1="393.60" y1="163.47" x2="396.80" y2="163.47" stroke="#222" stroke-width="1"/>
<line x1="663.60" y1="163.47" x2="660.40" y2="163.47" stroke="#222" stroke-width="1"/>
<line x1="393.60" y1="178.98" x2="395.40" y2="178.98" stroke="#222" stroke-width="1"/>
<line x1="663.60" y1="178.98" x2="661.80" y2="178.98" stroke="#222" stroke-width="1"/>
<line x1="393.60" y1="147.95" x2="395.40" y2="147.95" stroke="#222" stroke-width="1"/>
<line x1="663.60" y1="147.95" x2="661.80" y2="147.95" stroke="#222" stroke-width="1"/>
<line x1="393.60" y1="116.92" x2="395.40" y2="116.92" stroke="#222" stroke-width="1"/>
<line x1="663.60" y1="116.92" x2="661.80" y2="116.92" stroke="#222" stroke-width="1"/>
<line x1="393.60" y1="85.88" x2="395.40" y2="85.88" stroke="#222" stroke-width="1"/>
<line x1="663.60" y1="85.88" x2="661.80" y2="85.88" stroke="#222" stroke-width="1"/>
<line x1="393.60" y1="54.85" x2="395.40" y2="54.85" stroke="#222" stroke-width="1"/>
<line x1="663.60" y1="54.85" x2="661.80" y2="54.85" stroke="#222" stroke-width="1"/>
<line x1="393.60" y1="23.82" x2="395.40" y2="23.82" stroke="#222" stroke-width="1"/>
<line x1="663.60" y1="23.82" x2="661.80" y2="23.82" stroke="#222" stroke-width="1"/>
<line x1="393.60" y1="8.30" x2="663.60" y2="8.30" stroke="#333" stroke-width="1.5" stroke-linecap="square"/>
<line x1="663.60" y1="8.30" x2="663.60" y2="194.50" stroke="#333" stroke-width="1.5" stroke-linecap="square"/>
<line x1="663.60" y1="194.50" x2="393.60" y2="194.50" stroke="#7e7e7e" stroke-width="2.0" stroke-linecap="square"/>
<line x1="393.60" y1="194.50" x2="393.60" y2="8.30" stroke="#333" stroke-width="1.5" stroke-linecap="square"/>
<text transform="translate(389.60,12.00) scale(1,1.100)" font-size="11" text-anchor="end" font-weight="bold" font-style="normal" fill="#111">0.600</text>
<text transform="translate(389.60,43.03) scale(1,1.100)" font-size="11" text-anchor="end" font-weight="bold" font-style="normal" fill="#111">0.596</text>
<text transform="translate(389.60,74.07) scale(1,1.100)" font-size="11" text-anchor="end" font-weight="bold" font-style="normal" fill="#111">0.592</text>
<text transform="translate(389.60,105.10) scale(1,1.100)" font-size="11" text-anchor="end" font-weight="bold" font-style="normal" fill="#111">0.588</text>
<text transform="translate(389.60,136.13) scale(1,1.100)" font-size="11" text-anchor="end" font-weight="bold" font-style="normal" fill="#111">0.584</text>
<text transform="translate(389.60,167.17) scale(1,1.100)" font-size="11" text-anchor="end" font-weight="bold" font-style="normal" fill="#111">0.580</text>
<text transform="translate(389.60,198.20) scale(1,1.100)" font-size="11" text-anchor="end" font-weight="bold" font-style="normal" fill="#111">0.576</text>
<text transform="translate(393.60,207.60) scale(1,1.100)" font-size="11" text-anchor="middle" font-weight="bold" font-style="normal" fill="#111">5</text>
<text transform="translate(447.60,207.60) scale(1,1.100)" font-size="11" text-anchor="middle" font-weight="bold" font-style="normal" fill="#111">10</text>
<text transform="translate(501.60,207.60) scale(1,1.100)" font-size="11" text-anchor="middle" font-weight="bold" font-style="normal" fill="#111">15</text>
<text transform="translate(555.60,207.60) scale(1,1.100)" font-size="11" text-anchor="middle" font-weight="bold" font-style="normal" fill="#111">20</text>
<text transform="translate(609.60,207.60) scale(1,1.100)" font-size="11" text-anchor="middle" font-weight="bold" font-style="normal" fill="#111">25</text>
<text transform="translate(663.60,207.60) scale(1,1.100)" font-size="11" text-anchor="middle" font-weight="bold" font-style="normal" fill="#111">30</text>
<text x="399.60" y="28.00" font-size="17" text-anchor="start" font-weight="bold" font-style="normal" fill="#111">(b)</text>
<line x1="594.20" y1="96.50" x2="618.30" y2="96.50" stroke="#111111" stroke-width="1.8"/>
<text x="621.60" y="100.50" font-size="10.4" font-weight="bold" fill="#111"><tspan font-style="italic" font-weight="normal" font-size="10.8">&#946;</tspan><tspan dx="1.9" font-size="11.2">=</tspan><tspan dx="2.6">0</tspan><tspan font-size="6.8" dy="-4.3">o</tspan></text>
<line x1="594.20" y1="110.95" x2="618.30" y2="110.95" stroke="#e2303c" stroke-width="1.8" stroke-dasharray="6.4 6.3"/>
<text x="621.60" y="114.95" font-size="10.4" font-weight="bold" fill="#111"><tspan font-style="italic" font-weight="normal" font-size="10.8">&#946;</tspan><tspan dx="1.9" font-size="11.2">=</tspan><tspan dx="2.6">30</tspan><tspan font-size="6.8" dy="-4.3">o</tspan></text>
<line x1="594.20" y1="125.40" x2="618.30" y2="125.40" stroke="#45a0dc" stroke-width="1.9" stroke-dasharray="1.7 5.8"/>
<text x="621.60" y="129.40" font-size="10.4" font-weight="bold" fill="#111"><tspan font-style="italic" font-weight="normal" font-size="10.8">&#946;</tspan><tspan dx="1.9" font-size="11.2">=</tspan><tspan dx="2.6">45</tspan><tspan font-size="6.8" dy="-4.3">o</tspan></text>
<line x1="594.20" y1="139.85" x2="618.30" y2="139.85" stroke="#34c234" stroke-width="1.9" stroke-dasharray="7.5 3.5 1.7 3.3"/>
<text x="621.60" y="143.85" font-size="10.4" font-weight="bold" fill="#111"><tspan font-style="italic" font-weight="normal" font-size="10.8">&#946;</tspan><tspan dx="1.9" font-size="11.2">=</tspan><tspan dx="2.6">60</tspan><tspan font-size="6.8" dy="-4.3">o</tspan></text>
<line x1="594.20" y1="154.30" x2="618.30" y2="154.30" stroke="#dcd84a" stroke-width="1.8" stroke-dasharray="5.6 3 1.7 3.3 1.7 3"/>
<text x="621.60" y="158.30" font-size="10.4" font-weight="bold" fill="#111"><tspan font-style="italic" font-weight="normal" font-size="10.8">&#946;</tspan><tspan dx="1.9" font-size="11.2">=</tspan><tspan dx="2.6">90</tspan><tspan font-size="6.8" dy="-4.3">o</tspan></text>
<line x1="594.20" y1="168.75" x2="618.30" y2="168.75" stroke="#c6a03c" stroke-width="1.8" stroke-dasharray="3.4 2.3"/>
<text x="621.60" y="172.75" font-size="10.4" font-weight="bold" fill="#111"><tspan font-style="italic" font-weight="normal" font-size="10.8">&#946;</tspan><tspan dx="1.9" font-size="11.2">=</tspan><tspan dx="2.6">135</tspan><tspan font-size="6.8" dy="-4.3">o</tspan></text>
<line x1="594.20" y1="183.20" x2="618.30" y2="183.20" stroke="#48c4c4" stroke-width="1.5" stroke-dasharray="1.2 1.2"/>
<text x="621.60" y="187.20" font-size="10.4" font-weight="bold" fill="#111"><tspan font-style="italic" font-weight="normal" font-size="10.8">&#946;</tspan><tspan dx="1.9" font-size="11.2">=</tspan><tspan dx="2.6">180</tspan><tspan font-size="6.8" dy="-4.3">o</tspan></text>
<text x="528.6" y="228.1" font-size="14" text-anchor="middle" font-weight="bold" fill="#111"><tspan font-style="italic">t</tspan>(s)</text>
<text transform="translate(357.00,110.80) rotate(-90)" font-size="15" font-weight="bold" fill="#111"><tspan font-style="italic">F</tspan><tspan font-style="italic" font-size="10" dx="-0.20" dy="3.8">z</tspan><tspan font-size="11" dx="0.00" dy="-9.30">*</tspan></text>
<path d="M50.00,402.50 C55.62,402.42 74.43,402.32 83.70,402.00 C92.97,401.68 100.00,401.40 105.60,400.60 C111.20,399.80 114.22,398.88 117.30,397.20 C120.38,395.52 122.13,393.58 124.10,390.50 C126.07,387.42 127.42,383.47 129.10,378.70 C130.78,373.93 132.65,366.83 134.20,361.90 C135.75,356.97 137.18,352.92 138.40,349.10 C139.62,345.28 140.55,342.17 141.50,339.00 C142.45,335.83 142.72,333.78 144.10,330.10 C145.48,326.42 147.90,320.05 149.80,316.90 C151.70,313.75 152.97,312.32 155.50,311.20 C158.03,310.08 161.52,310.05 165.00,310.20 C168.48,310.35 173.90,311.53 176.40,312.10 C178.90,312.67 177.30,312.93 180.00,313.60 C182.70,314.27 188.82,315.15 192.60,316.10 C196.38,317.05 199.75,317.93 202.70,319.30 C205.65,320.67 207.98,322.62 210.30,324.30 C212.62,325.98 214.65,327.42 216.60,329.40 C218.55,331.38 220.17,332.63 222.00,336.20 C223.83,339.77 225.75,346.05 227.60,350.80 C229.45,355.55 231.25,360.30 233.10,364.70 C234.95,369.10 236.85,373.72 238.70,377.20 C240.55,380.68 242.35,383.25 244.20,385.60 C246.05,387.95 248.20,389.57 249.80,391.30 C251.40,393.03 252.50,394.68 253.80,396.00 C255.10,397.32 256.13,398.27 257.60,399.20 C259.07,400.13 260.70,401.07 262.60,401.60 C264.50,402.13 266.88,402.30 269.00,402.40 C271.12,402.50 273.20,402.22 275.30,402.20 C277.40,402.18 279.10,402.15 281.60,402.30 C284.10,402.45 287.80,402.82 290.30,403.10 C292.80,403.38 294.48,403.75 296.60,404.00 C298.72,404.25 300.88,404.55 303.00,404.60 C305.12,404.65 307.20,404.42 309.30,404.30 C311.40,404.18 313.73,404.00 315.60,403.90 C317.47,403.80 319.68,403.73 320.50,403.70" fill="none" stroke="#111111" stroke-width="1.8" stroke-linejoin="round" clip-path="url(#cc)"/>
<path d="M50.00,400.40 C58.42,400.13 89.28,399.75 100.50,398.80 C111.72,397.85 113.37,396.22 117.30,394.70 C121.23,393.18 122.13,392.65 124.10,389.70 C126.07,386.75 127.42,381.92 129.10,377.00 C130.78,372.08 132.23,366.37 134.20,360.20 C136.17,354.03 138.62,346.27 140.90,340.00 C143.18,333.73 145.15,326.30 147.90,322.60 C150.65,318.90 154.23,318.75 157.40,317.80 C160.57,316.85 163.13,316.97 166.90,316.90 C170.67,316.83 175.72,317.32 180.00,317.40 C184.28,317.48 188.82,316.88 192.60,317.40 C196.38,317.92 199.53,319.03 202.70,320.50 C205.87,321.97 209.05,324.28 211.60,326.20 C214.15,328.12 216.27,330.12 218.00,332.00 C219.73,333.88 220.63,335.28 222.00,337.50 C223.37,339.72 224.12,340.88 226.20,345.30 C228.28,349.72 232.20,358.97 234.50,364.00 C236.80,369.03 238.25,372.25 240.00,375.50 C241.75,378.75 243.33,381.17 245.00,383.50 C246.67,385.83 248.33,387.72 250.00,389.50 C251.67,391.28 253.50,392.90 255.00,394.20 C256.50,395.50 257.52,396.50 259.00,397.30 C260.48,398.10 262.07,398.67 263.90,399.00 C265.73,399.33 267.58,399.25 270.00,399.30 C272.42,399.35 276.07,399.22 278.40,399.30 C280.73,399.38 281.80,399.60 284.00,399.80 C286.20,400.00 289.43,400.25 291.60,400.50 C293.77,400.75 295.00,401.08 297.00,401.30 C299.00,401.52 301.60,401.77 303.60,401.80 C305.60,401.83 307.00,401.65 309.00,401.50 C311.00,401.35 313.68,401.03 315.60,400.90 C317.52,400.77 319.68,400.73 320.50,400.70" fill="none" stroke="#e2303c" stroke-width="1.8" stroke-dasharray="6.4 6.3" stroke-linejoin="round" clip-path="url(#cc)"/>
<path d="M50.00,397.10 C58.42,396.83 89.28,396.47 100.50,395.50 C111.72,394.53 113.37,392.97 117.30,391.30 C121.23,389.63 122.13,388.43 124.10,385.50 C126.07,382.57 127.45,378.28 129.10,373.70 C130.75,369.12 132.18,363.45 134.00,358.00 C135.82,352.55 137.83,346.67 140.00,341.00 C142.17,335.33 144.42,328.02 147.00,324.00 C149.58,319.98 151.23,318.40 155.50,316.90 C159.77,315.40 166.85,315.15 172.60,315.00 C178.35,314.85 184.77,315.08 190.00,316.00 C195.23,316.92 200.00,318.75 204.00,320.50 C208.00,322.25 211.00,323.92 214.00,326.50 C217.00,329.08 219.05,331.25 222.00,336.00 C224.95,340.75 229.03,349.67 231.70,355.00 C234.37,360.33 235.92,363.83 238.00,368.00 C240.08,372.17 241.88,376.38 244.20,380.00 C246.52,383.62 249.62,387.28 251.90,389.70 C254.18,392.12 255.68,393.40 257.90,394.50 C260.12,395.60 262.73,396.08 265.20,396.30 C267.67,396.52 270.70,395.93 272.70,395.80 C274.70,395.67 275.15,395.38 277.20,395.50 C279.25,395.62 282.50,396.23 285.00,396.50 C287.50,396.77 289.73,396.85 292.20,397.10 C294.67,397.35 297.27,397.80 299.80,398.00 C302.33,398.20 304.98,398.35 307.40,398.30 C309.82,398.25 312.12,397.83 314.30,397.70 C316.48,397.57 319.47,397.53 320.50,397.50" fill="none" stroke="#45a0dc" stroke-width="1.9" stroke-dasharray="1.7 5.8" stroke-linejoin="round" clip-path="url(#cc)"/>
<path d="M50.00,392.20 C57.02,392.05 81.43,392.00 92.10,391.30 C102.77,390.60 108.95,389.40 114.00,388.00 C119.05,386.60 120.17,385.28 122.40,382.90 C124.63,380.52 125.72,378.05 127.40,373.70 C129.08,369.35 130.82,361.85 132.50,356.80 C134.18,351.75 135.25,347.53 137.50,343.40 C139.75,339.27 142.68,336.10 146.00,332.00 C149.32,327.90 153.92,322.27 157.40,318.80 C160.88,315.33 163.13,312.80 166.90,311.20 C170.67,309.60 176.13,309.33 180.00,309.20 C183.87,309.07 186.52,309.57 190.10,310.40 C193.68,311.23 198.13,312.72 201.50,314.20 C204.87,315.68 207.78,317.62 210.30,319.30 C212.82,320.98 214.65,322.05 216.60,324.30 C218.55,326.55 220.17,329.77 222.00,332.80 C223.83,335.83 225.52,338.10 227.60,342.50 C229.68,346.90 231.97,353.88 234.50,359.20 C237.03,364.52 240.25,370.23 242.80,374.40 C245.35,378.57 247.72,381.90 249.80,384.20 C251.88,386.50 253.73,387.05 255.30,388.20 C256.87,389.35 257.35,390.47 259.20,391.10 C261.05,391.73 263.93,391.95 266.40,392.00 C268.87,392.05 271.78,391.50 274.00,391.40 C276.22,391.30 277.50,391.32 279.70,391.40 C281.90,391.48 284.70,391.62 287.20,391.90 C289.70,392.18 292.18,392.85 294.70,393.10 C297.22,393.35 299.67,393.40 302.30,393.40 C304.93,393.40 307.87,393.28 310.50,393.10 C313.13,392.92 316.43,392.45 318.10,392.30 C319.77,392.15 320.10,392.22 320.50,392.20" fill="none" stroke="#34c234" stroke-width="1.9" stroke-dasharray="7.5 3.5 1.7 3.3" stroke-linejoin="round" clip-path="url(#cc)"/>
<path d="M50.00,381.90 C57.02,381.77 82.28,381.68 92.10,381.10 C101.92,380.52 104.70,379.63 108.90,378.40 C113.10,377.17 114.77,375.88 117.30,373.70 C119.83,371.52 122.07,368.92 124.10,365.30 C126.13,361.68 127.75,355.88 129.50,352.00 C131.25,348.12 132.48,346.00 134.60,342.00 C136.72,338.00 139.03,333.77 142.20,328.00 C145.37,322.23 150.43,312.42 153.60,307.40 C156.77,302.38 158.98,299.80 161.20,297.90 C163.42,296.00 164.37,296.15 166.90,296.00 C169.43,295.85 172.95,297.02 176.40,297.00 C179.85,296.98 183.85,295.45 187.60,295.90 C191.35,296.35 195.53,298.02 198.90,299.70 C202.27,301.38 205.27,304.00 207.80,306.00 C210.33,308.00 212.20,309.70 214.10,311.70 C216.00,313.70 217.72,315.78 219.20,318.00 C220.68,320.22 221.60,322.30 223.00,325.00 C224.40,327.70 225.68,330.37 227.60,334.20 C229.52,338.03 232.20,343.15 234.50,348.00 C236.80,352.85 239.08,358.90 241.40,363.30 C243.72,367.70 246.32,371.68 248.40,374.40 C250.48,377.12 251.73,378.43 253.90,379.60 C256.07,380.77 258.88,381.10 261.40,381.40 C263.92,381.70 266.17,381.45 269.00,381.40 C271.83,381.35 275.58,381.07 278.40,381.10 C281.22,381.13 282.75,381.38 285.90,381.60 C289.05,381.82 293.40,382.30 297.30,382.40 C301.20,382.50 305.43,382.23 309.30,382.20 C313.17,382.17 318.63,382.20 320.50,382.20" fill="none" stroke="#dcd84a" stroke-width="1.8" stroke-dasharray="5.6 3 1.7 3.3 1.7 3" stroke-linejoin="round" clip-path="url(#cc)"/>
<path d="M50.00,366.40 C57.02,366.22 82.57,366.05 92.10,365.30 C101.63,364.55 103.00,363.58 107.20,361.90 C111.40,360.22 114.48,357.60 117.30,355.20 C120.12,352.80 122.22,349.70 124.10,347.50 C125.98,345.30 126.85,345.52 128.60,342.00 C130.35,338.48 132.33,332.80 134.60,326.40 C136.87,320.00 139.35,309.62 142.20,303.60 C145.05,297.58 148.22,293.47 151.70,290.30 C155.18,287.13 159.30,285.92 163.10,284.60 C166.90,283.28 171.03,282.87 174.50,282.40 C177.97,281.93 180.88,281.45 183.90,281.80 C186.92,282.15 189.03,282.88 192.60,284.50 C196.17,286.12 201.93,289.28 205.30,291.50 C208.67,293.72 210.70,295.70 212.80,297.80 C214.90,299.90 216.22,301.58 217.90,304.10 C219.58,306.62 221.43,309.95 222.90,312.90 C224.37,315.85 225.23,318.48 226.70,321.80 C228.17,325.12 229.93,329.12 231.70,332.80 C233.47,336.48 235.45,340.43 237.30,343.90 C239.15,347.37 240.95,350.82 242.80,353.60 C244.65,356.38 246.55,358.87 248.40,360.60 C250.25,362.33 251.45,363.02 253.90,364.00 C256.35,364.98 259.03,366.22 263.10,366.50 C267.17,366.78 272.82,365.50 278.30,365.70 C283.78,365.90 288.97,367.50 296.00,367.70 C303.03,367.90 316.42,367.03 320.50,366.90" fill="none" stroke="#c6a03c" stroke-width="1.8" stroke-dasharray="3.4 2.3" stroke-linejoin="round" clip-path="url(#cc)"/>
<path d="M50.00,360.20 C57.00,360.17 82.73,360.57 92.00,360.00 C101.27,359.43 101.93,358.17 105.60,356.80 C109.27,355.43 111.48,353.77 114.00,351.80 C116.52,349.83 118.88,346.97 120.70,345.00 C122.52,343.03 123.52,342.48 124.90,340.00 C126.28,337.52 127.65,333.52 129.00,330.10 C130.35,326.68 131.43,323.60 133.00,319.50 C134.57,315.40 136.55,311.32 138.40,305.50 C140.25,299.68 142.20,289.97 144.10,284.60 C146.00,279.23 147.58,275.67 149.80,273.30 C152.02,270.93 154.87,270.72 157.40,270.40 C159.93,270.08 162.15,270.77 165.00,271.40 C167.85,272.03 172.00,273.67 174.50,274.20 C177.00,274.73 176.98,274.03 180.00,274.60 C183.02,275.17 188.38,276.05 192.60,277.60 C196.82,279.15 201.93,281.80 205.30,283.90 C208.67,286.00 210.48,287.88 212.80,290.20 C215.12,292.52 217.52,295.07 219.20,297.80 C220.88,300.53 221.43,303.23 222.90,306.60 C224.37,309.97 226.07,313.87 228.00,318.00 C229.93,322.13 232.27,327.08 234.50,331.40 C236.73,335.72 239.08,340.43 241.40,343.90 C243.72,347.37 246.32,349.93 248.40,352.20 C250.48,354.47 252.13,356.23 253.90,357.50 C255.67,358.77 257.03,359.25 259.00,359.80 C260.97,360.35 262.07,360.75 265.70,360.80 C269.33,360.85 274.92,360.13 280.80,360.10 C286.68,360.07 294.38,360.38 301.00,360.60 C307.62,360.82 317.25,361.27 320.50,361.40" fill="none" stroke="#48c4c4" stroke-width="1.5" stroke-dasharray="1.2 1.2" stroke-linejoin="round" clip-path="url(#cc)"/>
<line x1="103.30" y1="431.00" x2="103.30" y2="427.80" stroke="#222" stroke-width="1"/>
<line x1="103.30" y1="244.00" x2="103.30" y2="247.20" stroke="#222" stroke-width="1"/>
<line x1="157.60" y1="431.00" x2="157.60" y2="427.80" stroke="#222" stroke-width="1"/>
<line x1="157.60" y1="244.00" x2="157.60" y2="247.20" stroke="#222" stroke-width="1"/>
<line x1="211.90" y1="431.00" x2="211.90" y2="427.80" stroke="#222" stroke-width="1"/>
<line x1="211.90" y1="244.00" x2="211.90" y2="247.20" stroke="#222" stroke-width="1"/>
<line x1="266.20" y1="431.00" x2="266.20" y2="427.80" stroke="#222" stroke-width="1"/>
<line x1="266.20" y1="244.00" x2="266.20" y2="247.20" stroke="#222" stroke-width="1"/>
<line x1="76.15" y1="431.00" x2="76.15" y2="429.20" stroke="#222" stroke-width="1"/>
<line x1="76.15" y1="244.00" x2="76.15" y2="245.80" stroke="#222" stroke-width="1"/>
<line x1="130.45" y1="431.00" x2="130.45" y2="429.20" stroke="#222" stroke-width="1"/>
<line x1="130.45" y1="244.00" x2="130.45" y2="245.80" stroke="#222" stroke-width="1"/>
<line x1="184.75" y1="431.00" x2="184.75" y2="429.20" stroke="#222" stroke-width="1"/>
<line x1="184.75" y1="244.00" x2="184.75" y2="245.80" stroke="#222" stroke-width="1"/>
<line x1="239.05" y1="431.00" x2="239.05" y2="429.20" stroke="#222" stroke-width="1"/>
<line x1="239.05" y1="244.00" x2="239.05" y2="245.80" stroke="#222" stroke-width="1"/>
<line x1="293.35" y1="431.00" x2="293.35" y2="429.20" stroke="#222" stroke-width="1"/>
<line x1="293.35" y1="244.00" x2="293.35" y2="245.80" stroke="#222" stroke-width="1"/>
<line x1="49.00" y1="257.36" x2="52.20" y2="257.36" stroke="#222" stroke-width="1"/>
<line x1="320.50" y1="257.36" x2="317.30" y2="257.36" stroke="#222" stroke-width="1"/>
<line x1="49.00" y1="284.07" x2="52.20" y2="284.07" stroke="#222" stroke-width="1"/>
<line x1="320.50" y1="284.07" x2="317.30" y2="284.07" stroke="#222" stroke-width="1"/>
<line x1="49.00" y1="310.79" x2="52.20" y2="310.79" stroke="#222" stroke-width="1"/>
<line x1="320.50" y1="310.79" x2="317.30" y2="310.79" stroke="#222" stroke-width="1"/>
<line x1="49.00" y1="337.50" x2="52.20" y2="337.50" stroke="#222" stroke-width="1"/>
<line x1="320.50" y1="337.50" x2="317.30" y2="337.50" stroke="#222" stroke-width="1"/>
<line x1="49.00" y1="364.21" x2="52.20" y2="364.21" stroke="#222" stroke-width="1"/>
<line x1="320.50" y1="364.21" x2="317.30" y2="364.21" stroke="#222" stroke-width="1"/>
<line x1="49.00" y1="390.93" x2="52.20" y2="390.93" stroke="#222" stroke-width="1"/>
<line x1="320.50" y1="390.93" x2="317.30" y2="390.93" stroke="#222" stroke-width="1"/>
<line x1="49.00" y1="417.64" x2="52.20" y2="417.64" stroke="#222" stroke-width="1"/>
<line x1="320.50" y1="417.64" x2="317.30" y2="417.64" stroke="#222" stroke-width="1"/>
<line x1="49.00" y1="270.71" x2="50.80" y2="270.71" stroke="#222" stroke-width="1"/>
<line x1="320.50" y1="270.71" x2="318.70" y2="270.71" stroke="#222" stroke-width="1"/>
<line x1="49.00" y1="297.43" x2="50.80" y2="297.43" stroke="#222" stroke-width="1"/>
<line x1="320.50" y1="297.43" x2="318.70" y2="297.43" stroke="#222" stroke-width="1"/>
<line x1="49.00" y1="324.14" x2="50.80" y2="324.14" stroke="#222" stroke-width="1"/>
<line x1="320.50" y1="324.14" x2="318.70" y2="324.14" stroke="#222" stroke-width="1"/>
<line x1="49.00" y1="350.86" x2="50.80" y2="350.86" stroke="#222" stroke-width="1"/>
<line x1="320.50" y1="350.86" x2="318.70" y2="350.86" stroke="#222" stroke-width="1"/>
<line x1="49.00" y1="377.57" x2="50.80" y2="377.57" stroke="#222" stroke-width="1"/>
<line x1="320.50" y1="377.57" x2="318.70" y2="377.57" stroke="#222" stroke-width="1"/>
<line x1="49.00" y1="404.29" x2="50.80" y2="404.29" stroke="#222" stroke-width="1"/>
<line x1="320.50" y1="404.29" x2="318.70" y2="404.29" stroke="#222" stroke-width="1"/>
<line x1="49.00" y1="244.00" x2="320.50" y2="244.00" stroke="#333" stroke-width="1.5" stroke-linecap="square"/>
<line x1="320.50" y1="244.00" x2="320.50" y2="431.00" stroke="#333" stroke-width="1.5" stroke-linecap="square"/>
<line x1="320.50" y1="431.00" x2="49.00" y2="431.00" stroke="#333" stroke-width="1.5" stroke-linecap="square"/>
<line x1="49.00" y1="431.00" x2="49.00" y2="244.00" stroke="#7e7e7e" stroke-width="2.0" stroke-linecap="square"/>
<text transform="translate(44.70,261.06) scale(1,1.100)" font-size="11" text-anchor="end" font-weight="bold" font-style="normal" fill="#111">-13.0</text>
<text transform="translate(44.70,287.77) scale(1,1.100)" font-size="11" text-anchor="end" font-weight="bold" font-style="normal" fill="#111">-13.1</text>
<text transform="translate(44.70,314.49) scale(1,1.100)" font-size="11" text-anchor="end" font-weight="bold" font-style="normal" fill="#111">-13.2</text>
<text transform="translate(44.70,341.20) scale(1,1.100)" font-size="11" text-anchor="end" font-weight="bold" font-style="normal" fill="#111">-13.3</text>
<text transform="translate(44.70,367.91) scale(1,1.100)" font-size="11" text-anchor="end" font-weight="bold" font-style="normal" fill="#111">-13.4</text>
<text transform="translate(44.70,394.63) scale(1,1.100)" font-size="11" text-anchor="end" font-weight="bold" font-style="normal" fill="#111">-13.5</text>
<text transform="translate(44.70,421.34) scale(1,1.100)" font-size="11" text-anchor="end" font-weight="bold" font-style="normal" fill="#111">-13.6</text>
<text transform="translate(49.00,444.10) scale(1,1.100)" font-size="11" text-anchor="middle" font-weight="bold" font-style="normal" fill="#111">5</text>
<text transform="translate(103.30,444.10) scale(1,1.100)" font-size="11" text-anchor="middle" font-weight="bold" font-style="normal" fill="#111">10</text>
<text transform="translate(157.60,444.10) scale(1,1.100)" font-size="11" text-anchor="middle" font-weight="bold" font-style="normal" fill="#111">15</text>
<text transform="translate(211.90,444.10) scale(1,1.100)" font-size="11" text-anchor="middle" font-weight="bold" font-style="normal" fill="#111">20</text>
<text transform="translate(266.20,444.10) scale(1,1.100)" font-size="11" text-anchor="middle" font-weight="bold" font-style="normal" fill="#111">25</text>
<text transform="translate(320.50,444.10) scale(1,1.100)" font-size="11" text-anchor="middle" font-weight="bold" font-style="normal" fill="#111">30</text>
<text x="55.30" y="262.80" font-size="17" text-anchor="start" font-weight="bold" font-style="normal" fill="#111">(c)</text>
<line x1="251.10" y1="257.50" x2="275.60" y2="257.50" stroke="#111111" stroke-width="1.8"/>
<text x="278.40" y="261.50" font-size="10.4" font-weight="bold" fill="#111"><tspan font-style="italic" font-weight="normal" font-size="10.8">&#946;</tspan><tspan dx="1.9" font-size="11.2">=</tspan><tspan dx="2.6">0</tspan><tspan font-size="6.8" dy="-4.3">o</tspan></text>
<line x1="251.10" y1="271.82" x2="275.60" y2="271.82" stroke="#e2303c" stroke-width="1.8" stroke-dasharray="6.4 6.3"/>
<text x="278.40" y="275.82" font-size="10.4" font-weight="bold" fill="#111"><tspan font-style="italic" font-weight="normal" font-size="10.8">&#946;</tspan><tspan dx="1.9" font-size="11.2">=</tspan><tspan dx="2.6">30</tspan><tspan font-size="6.8" dy="-4.3">o</tspan></text>
<line x1="251.10" y1="286.14" x2="275.60" y2="286.14" stroke="#45a0dc" stroke-width="1.9" stroke-dasharray="1.7 5.8"/>
<text x="278.40" y="290.14" font-size="10.4" font-weight="bold" fill="#111"><tspan font-style="italic" font-weight="normal" font-size="10.8">&#946;</tspan><tspan dx="1.9" font-size="11.2">=</tspan><tspan dx="2.6">45</tspan><tspan font-size="6.8" dy="-4.3">o</tspan></text>
<line x1="251.10" y1="300.46" x2="275.60" y2="300.46" stroke="#34c234" stroke-width="1.9" stroke-dasharray="7.5 3.5 1.7 3.3"/>
<text x="278.40" y="304.46" font-size="10.4" font-weight="bold" fill="#111"><tspan font-style="italic" font-weight="normal" font-size="10.8">&#946;</tspan><tspan dx="1.9" font-size="11.2">=</tspan><tspan dx="2.6">60</tspan><tspan font-size="6.8" dy="-4.3">o</tspan></text>
<line x1="251.10" y1="314.78" x2="275.60" y2="314.78" stroke="#dcd84a" stroke-width="1.8" stroke-dasharray="5.6 3 1.7 3.3 1.7 3"/>
<text x="278.40" y="318.78" font-size="10.4" font-weight="bold" fill="#111"><tspan font-style="italic" font-weight="normal" font-size="10.8">&#946;</tspan><tspan dx="1.9" font-size="11.2">=</tspan><tspan dx="2.6">90</tspan><tspan font-size="6.8" dy="-4.3">o</tspan></text>
<line x1="251.10" y1="329.10" x2="275.60" y2="329.10" stroke="#c6a03c" stroke-width="1.8" stroke-dasharray="3.4 2.3"/>
<text x="278.40" y="333.10" font-size="10.4" font-weight="bold" fill="#111"><tspan font-style="italic" font-weight="normal" font-size="10.8">&#946;</tspan><tspan dx="1.9" font-size="11.2">=</tspan><tspan dx="2.6">135</tspan><tspan font-size="6.8" dy="-4.3">o</tspan></text>
<line x1="251.10" y1="343.42" x2="275.60" y2="343.42" stroke="#48c4c4" stroke-width="1.5" stroke-dasharray="1.2 1.2"/>
<text x="278.40" y="347.42" font-size="10.4" font-weight="bold" fill="#111"><tspan font-style="italic" font-weight="normal" font-size="10.8">&#946;</tspan><tspan dx="1.9" font-size="11.2">=</tspan><tspan dx="2.6">180</tspan><tspan font-size="6.8" dy="-4.3">o</tspan></text>
<text x="185.0" y="465.4" font-size="14" text-anchor="middle" font-weight="bold" fill="#111"><tspan font-style="italic">t</tspan>(s)</text>
<text transform="translate(15.00,349.50) rotate(-90)" font-size="15" font-weight="bold" fill="#111"><tspan font-style="italic">M</tspan><tspan font-style="italic" font-size="10" dx="0.60" dy="3.8">y</tspan><tspan font-size="11" dx="-1.50" dy="-10.40">*</tspan></text>
<line x1="418.43" y1="431.90" x2="418.43" y2="428.70" stroke="#222" stroke-width="1"/>
<line x1="418.43" y1="245.30" x2="418.43" y2="248.50" stroke="#222" stroke-width="1"/>
<line x1="462.90" y1="431.90" x2="462.90" y2="428.70" stroke="#222" stroke-width="1"/>
<line x1="462.90" y1="245.30" x2="462.90" y2="248.50" stroke="#222" stroke-width="1"/>
<line x1="507.37" y1="431.90" x2="507.37" y2="428.70" stroke="#222" stroke-width="1"/>
<line x1="507.37" y1="245.30" x2="507.37" y2="248.50" stroke="#222" stroke-width="1"/>
<line x1="551.83" y1="431.90" x2="551.83" y2="428.70" stroke="#222" stroke-width="1"/>
<line x1="551.83" y1="245.30" x2="551.83" y2="248.50" stroke="#222" stroke-width="1"/>
<line x1="596.30" y1="431.90" x2="596.30" y2="428.70" stroke="#222" stroke-width="1"/>
<line x1="596.30" y1="245.30" x2="596.30" y2="248.50" stroke="#222" stroke-width="1"/>
<line x1="640.77" y1="431.90" x2="640.77" y2="428.70" stroke="#222" stroke-width="1"/>
<line x1="640.77" y1="245.30" x2="640.77" y2="248.50" stroke="#222" stroke-width="1"/>
<line x1="440.67" y1="431.90" x2="440.67" y2="430.10" stroke="#222" stroke-width="1"/>
<line x1="440.67" y1="245.30" x2="440.67" y2="247.10" stroke="#222" stroke-width="1"/>
<line x1="485.13" y1="431.90" x2="485.13" y2="430.10" stroke="#222" stroke-width="1"/>
<line x1="485.13" y1="245.30" x2="485.13" y2="247.10" stroke="#222" stroke-width="1"/>
<line x1="529.60" y1="431.90" x2="529.60" y2="430.10" stroke="#222" stroke-width="1"/>
<line x1="529.60" y1="245.30" x2="529.60" y2="247.10" stroke="#222" stroke-width="1"/>
<line x1="574.07" y1="431.90" x2="574.07" y2="430.10" stroke="#222" stroke-width="1"/>
<line x1="574.07" y1="245.30" x2="574.07" y2="247.10" stroke="#222" stroke-width="1"/>
<line x1="618.53" y1="431.90" x2="618.53" y2="430.10" stroke="#222" stroke-width="1"/>
<line x1="618.53" y1="245.30" x2="618.53" y2="247.10" stroke="#222" stroke-width="1"/>
<line x1="396.20" y1="385.25" x2="399.40" y2="385.25" stroke="#222" stroke-width="1"/>
<line x1="663.00" y1="385.25" x2="659.80" y2="385.25" stroke="#222" stroke-width="1"/>
<line x1="396.20" y1="338.60" x2="399.40" y2="338.60" stroke="#222" stroke-width="1"/>
<line x1="663.00" y1="338.60" x2="659.80" y2="338.60" stroke="#222" stroke-width="1"/>
<line x1="396.20" y1="291.95" x2="399.40" y2="291.95" stroke="#222" stroke-width="1"/>
<line x1="663.00" y1="291.95" x2="659.80" y2="291.95" stroke="#222" stroke-width="1"/>
<line x1="396.20" y1="408.57" x2="398.00" y2="408.57" stroke="#222" stroke-width="1"/>
<line x1="663.00" y1="408.57" x2="661.20" y2="408.57" stroke="#222" stroke-width="1"/>
<line x1="396.20" y1="361.93" x2="398.00" y2="361.93" stroke="#222" stroke-width="1"/>
<line x1="663.00" y1="361.93" x2="661.20" y2="361.93" stroke="#222" stroke-width="1"/>
<line x1="396.20" y1="315.27" x2="398.00" y2="315.27" stroke="#222" stroke-width="1"/>
<line x1="663.00" y1="315.27" x2="661.20" y2="315.27" stroke="#222" stroke-width="1"/>
<line x1="396.20" y1="268.62" x2="398.00" y2="268.62" stroke="#222" stroke-width="1"/>
<line x1="663.00" y1="268.62" x2="661.20" y2="268.62" stroke="#222" stroke-width="1"/>
<line x1="396.20" y1="245.30" x2="663.00" y2="245.30" stroke="#333" stroke-width="1.5" stroke-linecap="square"/>
<line x1="663.00" y1="245.30" x2="663.00" y2="431.90" stroke="#333" stroke-width="1.5" stroke-linecap="square"/>
<line x1="663.00" y1="431.90" x2="396.20" y2="431.90" stroke="#333" stroke-width="1.5" stroke-linecap="square"/>
<line x1="396.20" y1="431.90" x2="396.20" y2="245.30" stroke="#555" stroke-width="1.9" stroke-linecap="square"/>
<text transform="translate(392.30,249.00) scale(1,1.100)" font-size="11" text-anchor="end" font-weight="bold" font-style="normal" fill="#111">0.05</text>
<text transform="translate(392.30,295.65) scale(1,1.100)" font-size="11" text-anchor="end" font-weight="bold" font-style="normal" fill="#111">0.04</text>
<text transform="translate(392.30,342.30) scale(1,1.100)" font-size="11" text-anchor="end" font-weight="bold" font-style="normal" fill="#111">0.03</text>
<text transform="translate(392.30,388.95) scale(1,1.100)" font-size="11" text-anchor="end" font-weight="bold" font-style="normal" fill="#111">0.02</text>
<text transform="translate(392.30,435.60) scale(1,1.100)" font-size="11" text-anchor="end" font-weight="bold" font-style="normal" fill="#111">0.01</text>
<text transform="translate(418.43,445.00) scale(1,1.100)" font-size="11" text-anchor="middle" font-weight="bold" font-style="normal" fill="#111">0.0</text>
<text transform="translate(462.90,445.00) scale(1,1.100)" font-size="11" text-anchor="middle" font-weight="bold" font-style="normal" fill="#111">0.2</text>
<text transform="translate(507.37,445.00) scale(1,1.100)" font-size="11" text-anchor="middle" font-weight="bold" font-style="normal" fill="#111">0.4</text>
<text transform="translate(551.83,445.00) scale(1,1.100)" font-size="11" text-anchor="middle" font-weight="bold" font-style="normal" fill="#111">0.6</text>
<text transform="translate(596.30,445.00) scale(1,1.100)" font-size="11" text-anchor="middle" font-weight="bold" font-style="normal" fill="#111">0.8</text>
<text transform="translate(640.77,445.00) scale(1,1.100)" font-size="11" text-anchor="middle" font-weight="bold" font-style="normal" fill="#111">1.0</text>
<circle cx="418.40" cy="408.60" r="2.9" fill="#0a0a0a"/>
<circle cx="529.60" cy="375.40" r="2.9" fill="#0a0a0a"/>
<circle cx="575.50" cy="346.20" r="2.9" fill="#0a0a0a"/>
<circle cx="611.00" cy="302.60" r="2.9" fill="#0a0a0a"/>
<circle cx="640.80" cy="255.40" r="2.9" fill="#0a0a0a"/>
<circle cx="513.00" cy="258.10" r="2.9" fill="#0a0a0a"/>
<text x="528.80" y="261.70" font-size="10.9" text-anchor="start" font-weight="bold" font-style="normal" fill="#111">Resistance amplitude</text>
<text x="402.40" y="266.00" font-size="17" text-anchor="start" font-weight="bold" font-style="normal" fill="#111">(d)</text>
<text x="509.4" y="469.0" font-size="14.5" font-weight="bold" fill="#111">sin(</text>
<text transform="translate(532.6,469.0) scale(1.22,1)" font-size="15.5" font-style="italic" font-weight="normal" fill="#111">&#946;</text>
<text x="545.0" y="469.0" font-size="14.5" font-weight="bold" fill="#111">)</text>
<text transform="translate(364.00,348.50) rotate(-90)" font-size="15" font-weight="bold" fill="#111"><tspan font-style="italic">F</tspan><tspan font-style="italic" font-size="10" dx="-1.40" dy="3.8">x</tspan><tspan font-size="11" dx="0.60" dy="-9.30">*</tspan></text>
<line x1="676" y1="236.1" x2="685" y2="236.1" stroke="#dcdcdc" stroke-width="1"/>
</svg></body></html>
